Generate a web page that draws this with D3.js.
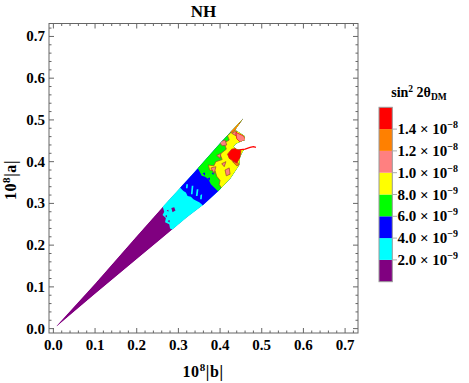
<!DOCTYPE html>
<html><head><meta charset="utf-8">
<script src="https://cdn.jsdelivr.net/npm/d3@7"></script>
<style>body{margin:0;background:#fff}svg{display:block}text{font-family:"Liberation Serif","Times New Roman",serif;font-weight:bold;fill:#000}</style>
</head><body><svg id="c" width="469" height="383"></svg>
<script>
// ---------- data ----------
const axisTicks = [0, 0.1, 0.2, 0.3, 0.4, 0.5, 0.6, 0.7];
const axisTickLabels = ["0.0","0.1","0.2","0.3","0.4","0.5","0.6","0.7"];
const levelBounds = [0, 2e-9, 4e-9, 6e-9, 8e-9, 1.0e-8, 1.2e-8, 1.4e-8, 1.6e-8];
const levelColors = ["#800080","#00ffff","#0000ff","#00ff00","#ffff00","#ff8080","#ff8000","#ff0000"];
const legendLabelValues = [2e-9, 4e-9, 6e-9, 8e-9, 1.0e-8, 1.2e-8, 1.4e-8];

// allowed region outline (|b|, |a|)
const wedge = [[0.007,0.006],[0.1,0.108],[0.2,0.222],[0.264,0.294],[0.336,0.372],[0.40,0.444],[0.456,0.504],
  [0.446,0.49],[0.436,0.476],[0.446,0.47],[0.458,0.462],[0.46,0.452],[0.45,0.448],[0.438,0.443],
  [0.432,0.436],[0.44,0.43],[0.45,0.428],[0.458,0.43],[0.452,0.42],[0.448,0.41],[0.446,0.392],
  [0.425,0.36],[0.396,0.330],[0.36,0.297],[0.32,0.266],[0.26,0.216],[0.2,0.166],[0.1,0.083],[0.008,0.005]];
const cyanRegion = [[0.25,0.32],[0.262,0.293],[0.266,0.28],[0.262,0.272],[0.27,0.265],[0.268,0.255],
  [0.278,0.25],[0.28,0.24],[0.288,0.236],[0.292,0.22],[0.7,0.3],[0.7,0.75],[0.25,0.75]];
const blueRegion = [[0.295,0.36],[0.304,0.338],[0.312,0.33],[0.318,0.326],[0.322,0.318],[0.33,0.316],
  [0.336,0.31],[0.344,0.306],[0.35,0.303],[0.356,0.298],[0.37,0.28],[0.7,0.3],[0.7,0.75],[0.295,0.75]];
const greenRegion = [[0.34,0.40],[0.348,0.382],[0.356,0.366],[0.364,0.364],[0.372,0.358],[0.378,0.346],
  [0.386,0.338],[0.392,0.332],[0.404,0.322],[0.42,0.3],[0.7,0.3],[0.7,0.75],[0.34,0.75]];
const yellowRegion = [[0.43,0.5],[0.426,0.47],[0.418,0.462],[0.422,0.452],[0.41,0.445],[0.415,0.43],
  [0.40,0.418],[0.405,0.405],[0.39,0.40],[0.385,0.39],[0.372,0.392],[0.375,0.38],[0.388,0.378],
  [0.392,0.365],[0.4,0.355],[0.398,0.345],[0.405,0.335],[0.41,0.32],[0.6,0.3],[0.6,0.6],[0.43,0.6]];
const pinkPatches = [
  [[0.378,0.385],[0.39,0.388],[0.386,0.372]],
  [[0.398,0.447],[0.412,0.452],[0.416,0.44],[0.405,0.438]],
  [[0.428,0.468],[0.44,0.474],[0.438,0.462]],
  [[0.412,0.38],[0.422,0.385],[0.424,0.37],[0.415,0.366]],
  [[0.392,0.415],[0.402,0.42],[0.4,0.408]],
  [[0.404,0.395],[0.414,0.4],[0.41,0.388]]];
const pinkLobe = [[0.438,0.47],[0.456,0.462],[0.462,0.452],[0.448,0.447],[0.44,0.455]];
const orangePatches = [
  [[0.42,0.474],[0.432,0.484],[0.446,0.494],[0.45,0.488],[0.44,0.478],[0.428,0.47]],
  [[0.43,0.4],[0.44,0.39],[0.446,0.392],[0.44,0.402]]];
const redPatches = [
  [[0.418,0.418],[0.428,0.43],[0.44,0.432],[0.45,0.426],[0.448,0.41],[0.44,0.397],[0.43,0.402],[0.422,0.408]],
  [[0.446,0.49],[0.456,0.504],[0.47,0.51],[0.45,0.484]]];
const redStreak = [[0.446,0.428],[0.46,0.43],[0.472,0.434],[0.48,0.436],[0.486,0.434]];
const purpleSpecks = [
  [[0.283,0.289],[0.29,0.291],[0.293,0.283],[0.286,0.279]],
  [[0.268,0.27],[0.272,0.272],[0.273,0.266]],
  [[0.274,0.258],[0.279,0.26],[0.279,0.254]],
  [[0.272,0.283],[0.276,0.285],[0.276,0.28]]];
const cyanSpecks = [
  [[0.33,0.322],[0.334,0.322],[0.336,0.342],[0.332,0.342]],
  [[0.342,0.318],[0.346,0.318],[0.348,0.334],[0.344,0.334]],
  [[0.318,0.336],[0.322,0.336],[0.323,0.346],[0.319,0.346]],
  [[0.352,0.31],[0.356,0.31],[0.357,0.322],[0.353,0.32]]];
const blueSpecks = [
  [[0.358,0.372],[0.364,0.374],[0.364,0.366]],
  [[0.37,0.36],[0.376,0.362],[0.375,0.354]],
  [[0.38,0.372],[0.385,0.375],[0.384,0.368]]];

// ---------- drawing ----------
const svg = d3.select("#c");
const x = d3.scaleLinear().domain([-0.0105, 0.731]).range([49, 358]);
const y = d3.scaleLinear().domain([-0.0105, 0.731]).range([333, 23.5]);
const line = d3.line().x(d => x(d[0])).y(d => y(d[1]));
const closed = d3.line().x(d => x(d[0])).y(d => y(d[1])).curve(d3.curveLinearClosed);

svg.append("defs").append("clipPath").attr("id","wclip").append("path").attr("d", closed(wedge));

const g = svg.append("g").attr("clip-path","url(#wclip)");
g.append("path").attr("d", closed(wedge)).attr("fill", levelColors[0]);
function region(poly, lvl, stroke) {
  g.append("path").attr("d", closed(poly)).attr("fill", levelColors[lvl])
    .attr("stroke", stroke || "none").attr("stroke-width", stroke ? 0.9 : 0)
    .attr("stroke-opacity", 0.85);
}
const cl = "#a0522d";
region(cyanRegion, 1);
purpleSpecks.forEach(p => region(p, 0));
region(blueRegion, 2);
cyanSpecks.forEach(p => region(p, 1));
region(greenRegion, 3);
blueSpecks.forEach(p => region(p, 2));
region(yellowRegion, 4, cl);
pinkPatches.forEach(p => region(p, 5, cl));
region(pinkLobe, 5, "#e01010");
orangePatches.forEach(p => region(p, 6, cl));
redPatches.forEach(p => region(p, 7, "#c02020"));
svg.append("path").attr("d", line(redStreak)).attr("fill","none").attr("stroke","#ff0000").attr("stroke-width",1.3);

// frame
const fc = "#666";
svg.append("rect").attr("x",49).attr("y",23.5).attr("width",309).attr("height",309.5)
  .attr("fill","none").attr("stroke",fc).attr("stroke-width",1);
const minor = d3.range(0, 0.73, 0.02).map(v => +v.toFixed(2));
const tk = svg.append("g").attr("stroke",fc).attr("stroke-width",1);
minor.forEach(v => {
  const major = Math.abs(v*10 - Math.round(v*10)) < 1e-6;
  const L = major ? 5 : 2.5;
  tk.append("line").attr("x1",x(v)).attr("x2",x(v)).attr("y1",333).attr("y2",333-L);
  tk.append("line").attr("x1",x(v)).attr("x2",x(v)).attr("y1",23.5).attr("y2",23.5+L);
  tk.append("line").attr("y1",y(v)).attr("y2",y(v)).attr("x1",49).attr("x2",49+L);
  tk.append("line").attr("y1",y(v)).attr("y2",y(v)).attr("x1",358).attr("x2",358-L);
});
axisTicks.forEach((v,i) => {
  svg.append("text").attr("x",x(v)).attr("y",350).attr("text-anchor","middle")
    .style("font-size","15px").text(axisTickLabels[i]);
  svg.append("text").attr("x",45).attr("y",y(v)+5).attr("text-anchor","end")
    .style("font-size","15px").text(axisTickLabels[i]);
});

// titles
svg.append("text").attr("x",203.5).attr("y",17).attr("text-anchor","middle").style("font-size","17px").text("NH");
function axisLabel(sel, v) {
  sel.style("font-size","16px").style("letter-spacing","0.6px");
  sel.append("tspan").text("10");
  sel.append("tspan").attr("dy",-6).style("font-size","11px").text("8");
  sel.append("tspan").attr("dy",6).text("|" + v + "|");
}
axisLabel(svg.append("text").attr("x",203).attr("y",377).attr("text-anchor","middle"), "b");
axisLabel(svg.append("text").attr("transform","translate(16,180) rotate(-90)").attr("text-anchor","middle"), "a");

// legend
const lt = svg.append("text").attr("x",419).attr("y",97).attr("text-anchor","middle").style("font-size","14px");
lt.append("tspan").text("sin");
lt.append("tspan").attr("dy",-5).style("font-size","9.5px").text("2");
lt.append("tspan").attr("dy",5).text(" 2θ");
lt.append("tspan").attr("dy",3).style("font-size","9.5px").text("DM");

const ly = d3.scaleLinear().domain([0, 1.6e-8]).range([281.7, 107.3]);
for (let i = 0; i < levelColors.length; i++) {
  svg.append("rect").attr("x",379).attr("width",13.3)
    .attr("y", ly(levelBounds[i+1])).attr("height", ly(levelBounds[i]) - ly(levelBounds[i+1]))
    .attr("fill", levelColors[i]);
}
svg.append("rect").attr("x",379).attr("y",107.3).attr("width",13.3).attr("height",174.4)
  .attr("fill","none").attr("stroke","#999").attr("stroke-width",1);
legendLabelValues.forEach(v => {
  const e = Math.floor(Math.log10(v) + 1e-9);
  const m = (v / Math.pow(10, e)).toFixed(1);
  svg.append("line").attr("x1",392.3).attr("x2",397).attr("y1",ly(v)).attr("y2",ly(v)).attr("stroke","#aaa");
  const t = svg.append("text").attr("x",397.5).attr("y",ly(v)+5).style("font-size","15px");
  t.append("tspan").text(m + " \u00d7 10");
  t.append("tspan").attr("dy",-6).style("font-size","10px").text("\u2212" + Math.abs(e));
});
</script></body></html>
